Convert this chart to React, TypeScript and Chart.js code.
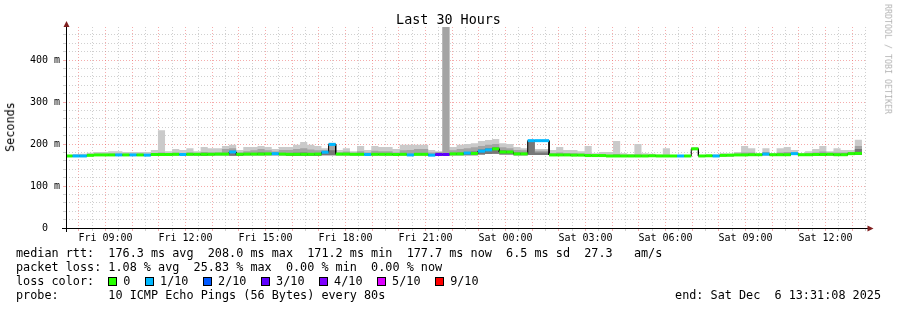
import React, { useEffect, useRef } from 'react';
import { Chart, registerables } from 'chart.js';

Chart.register(...registerables);

// ---- time frame (hours from Fri 00:00) ----
const FIRST_STEP_HOUR = 7.5; // first consolidated step starts Fri 07:30
const STEP_MINUTES = 16;
const VIEW_START_HOUR = 7 + 31 / 60 + 8 / 3600; // Fri 07:31:08
const VIEW_HOURS = 30;

// ---- series (ms), one value per 16-minute step ----
const medianRtt = [
  171.5, 171.5, 171.5, 173, 174, 174, 174, 174, 174, 174,
  174, 173.5, 175, 175, 175, 175.5, 175, 175.5, 175.5, 175.5,
  175.5, 176, 176, 181, 175.5, 176, 176, 176, 176.5, 177,
  176, 175.5, 175.5, 175.5, 175.5, 176, 180.5, 199, 176, 176,
  175.5, 175.5, 175, 175.5, 175.5, 175.5, 175, 175.5, 174, 175.5,
  175.5, 173.5, 175, 175, 176.5, 176.5, 178.5, 177.5, 183, 186,
  188.5, 181, 181, 176.5, 176.5, 208, 208, 208, 174, 174,
  174, 173.5, 173.5, 172.5, 172.5, 172.5, 171.5, 171.5, 171.5, 171.5,
  171.5, 171.5, 172, 171.5, 171.5, 171.5, 171.5, 171.5, 188.5, 171.5,
  172, 171.5, 173, 173.5, 174, 174, 174.5, 174.5, 176, 174.5,
  174.5, 174.5, 177, 174.5, 174.5, 175, 175, 175.5, 174.5, 174.5,
  177, 177.7,
];

// lost pings out of 10 per step
const lossCount = [
  0, 1, 1, 0, 0, 0, 0, 1, 0, 1,
  0, 1, 0, 0, 0, 0, 1, 0, 0, 0,
  0, 0, 0, 1, 0, 0, 0, 0, 0, 1,
  0, 0, 0, 0, 0, 0, 1, 1, 0, 0,
  0, 0, 1, 0, 0, 0, 0, 0, 1, 0,
  0, 1, 3, 3, 0, 0, 1, 0, 1, 1,
  0, 0, 0, 0, 0, 1, 1, 1, 0, 0,
  0, 0, 0, 0, 0, 0, 0, 0, 0, 0,
  0, 0, 0, 0, 0, 0, 1, 0, 0, 0,
  0, 1, 0, 0, 0, 0, 0, 0, 1, 0,
  0, 0, 1, 0, 0, 0, 0, 0, 0, 0,
  0, 0,
];

// smoke: outer (max ping), middle and inner layers, and lowest ping
const smokeHigh = [
  173, 176, 177, 179, 181, 181, 183, 183, 181, 181,
  181, 181, 186, 233, 183, 188, 186, 190, 183, 193,
  190, 190, 195, 198, 186, 193, 193, 195, 193, 188,
  193, 193, 198, 205, 198, 195, 190, 203, 186, 190,
  183, 195, 186, 195, 193, 193, 188, 198, 198, 198,
  198, 186, 183, 480, 193, 198, 200, 202, 207, 209.5,
  212, 202, 200, 193, 190, 208, 188, 188, 186, 193,
  186, 186, 183, 195, 178, 181, 181, 207, 178, 176,
  200, 178, 177, 175, 190, 174, 173, 173, 193, 173,
  174, 175, 178, 177, 181, 195, 190, 177, 190, 178,
  190, 193, 186, 178, 183, 188, 195, 183, 190, 186,
  186, 210,
];

const smokeMid = [
  172, 173, 173, 175, 176, 176, 177, 177, 176, 176,
  176, 176, 178, 180, 178, 179, 178, 180, 178, 181,
  180, 180, 188, 190, 180, 183, 185, 188, 185, 182,
  186, 186, 188, 190, 187, 185, 185, 201, 180, 182,
  179, 183, 180, 184, 183, 183, 180, 185, 186, 188,
  188, 180, 181, 480, 185, 188, 190, 192, 195, 198,
  200, 192, 190, 186, 185, 208, 184, 184, 178, 180,
  178, 178, 177, 177, 174, 175, 174, 176, 173, 173,
  175, 173, 173, 173, 174, 172.5, 172, 172, 190, 172,
  173, 173, 175, 175, 177, 180, 180, 176, 181, 176,
  180, 181, 180, 176, 178, 180, 182, 179, 180, 180,
  181, 195,
];

const smokeCore = [
  171.5, 171.5, 171.5, 173, 174, 174, 174, 174, 174, 174,
  174, 173.5, 175, 175, 175, 175.5, 175, 175.5, 175.5, 176,
  175.5, 176, 178, 184, 175.5, 176, 177, 180, 177, 177,
  178, 178, 179, 180, 178, 178, 180, 185, 176, 176,
  175.5, 176, 175, 176, 176, 176, 175, 176, 176, 178,
  178, 174, 176, 176, 178, 179, 181, 182, 187, 190,
  192, 185, 184, 180, 179, 206, 180, 180, 174, 174,
  174, 173.5, 173.5, 172.5, 172.5, 172.5, 171.5, 171.5, 171.5, 171.5,
  171.5, 171.5, 172, 171.5, 171.5, 171.5, 171.5, 171.5, 186, 171.5,
  172, 171.5, 173, 173.5, 174, 174, 174.5, 174.5, 176, 174.5,
  174.5, 175, 177, 174.5, 174.5, 175, 175, 175.5, 174.5, 177,
  177, 188,
];

const smokeLow = [
  170, 170, 170, 171.5, 172, 172, 172, 172, 172, 172,
  172, 171.5, 173, 173, 173, 173, 173, 173, 173, 172,
  173, 173, 173, 172, 172, 173, 173, 173, 173, 173,
  173, 172, 172, 172, 172, 172, 173, 173, 173, 173,
  173, 173, 173, 173, 173, 173, 173, 173, 172, 173,
  173, 171.5, 172, 172, 173, 173, 173, 173, 175, 176,
  177, 175, 175, 173, 173, 174, 174, 174, 172, 172,
  172, 171.5, 171.5, 171, 171, 171, 170, 170, 170, 170,
  170, 170, 170, 170, 170, 170, 170, 170, 186, 170,
  170, 170, 171, 171, 172, 172, 172, 172, 173, 172,
  172, 172, 174, 172, 172, 172, 172, 173, 172, 172,
  174, 174,
];

// ---- axis labels ----
const xLabelHours = [9, 12, 15, 18, 21, 24, 27, 30, 33, 36];
const xLabels = ['Fri 09:00', 'Fri 12:00', 'Fri 15:00', 'Fri 18:00', 'Fri 21:00', 'Sat 00:00', 'Sat 03:00', 'Sat 06:00', 'Sat 09:00', 'Sat 12:00'];
const yLabelValues = [0, 100, 200, 300, 400];
const yLabels = ['0  ', '100 m', '200 m', '300 m', '400 m'];
const Y_MAX = 478.6;

// ---- legend ----
const lossLegendCounts = [0, 1, 2, 3, 4, 5, 9];
const lossLegendLabels = ['0', '1/10', '2/10', '3/10', '4/10', '5/10', '9/10'];
const lossColors: Record<number, string> = {
  0: '#26ff00', 1: '#00b8ff', 2: '#0059ff', 3: '#5e00ff', 4: '#7e00ff', 5: '#dd00ff', 9: '#ff0000',
};
const statLines = [
  'median rtt:  176.3 ms avg  208.0 ms max  171.2 ms min  177.7 ms now  6.5 ms sd  27.3   am/s',
  'packet loss: 1.08 % avg  25.83 % max  0.00 % min  0.00 % now',
];
const probeLine = 'probe:       10 ICMP Echo Pings (56 Bytes) every 80s';
const endLine = 'end: Sat Dec  6 13:31:08 2025';
const titleText = 'Last 30 Hours';
const yAxisTitle = 'Seconds';
const watermark = 'RRDTOOL / TOBI OETIKER';

const FONT = '"DejaVu Sans Mono", monospace';
const MAJOR_GRID = 'rgba(235, 90, 90, 0.5)';
const MINOR_GRID = 'rgba(150, 150, 150, 0.45)';

function stepStart(i: number) {
  return FIRST_STEP_HOUR + (i * STEP_MINUTES) / 60;
}
function stepLine(values: number[]) {
  const pts: { x: number; y: number | null }[] = [];
  values.forEach((v, i) => {
    pts.push({ x: stepStart(i), y: v });
    pts.push({ x: stepStart(i + 1), y: v });
  });
  return pts;
}
function stepPieces(values: number[]) {
  const pts: { x: number; y: number | null }[] = [];
  values.forEach((v, i) => {
    pts.push({ x: stepStart(i), y: v });
    pts.push({ x: stepStart(i + 1), y: v });
    pts.push({ x: stepStart(i + 1), y: null });
  });
  return pts;
}

const gridHours: number[] = [];
for (let h = 8; h <= VIEW_START_HOUR + VIEW_HOURS; h += 0.5) gridHours.push(h);
const gridMs: number[] = [];
for (let v = 0; v < Y_MAX; v += 20) gridMs.push(v);

const axesPlugin = {
  id: 'rrdAxes',
  afterDatasetsDraw(chart: any) {
    const { ctx, chartArea: a } = chart;
    ctx.save();
    ctx.lineWidth = 1;
    ctx.strokeStyle = '#000';
    ctx.beginPath();
    ctx.moveTo(a.left - 4, a.bottom + 0.5);
    ctx.lineTo(a.right + 3, a.bottom + 0.5);
    ctx.stroke();
    ctx.beginPath();
    ctx.moveTo(a.left + 0.5, a.bottom + 4);
    ctx.lineTo(a.left + 0.5, a.top - 3);
    ctx.stroke();
    ctx.fillStyle = '#801f1f';
    ctx.beginPath();
    ctx.moveTo(a.right + 7.5, a.bottom + 0.5);
    ctx.lineTo(a.right + 1.5, a.bottom - 2.5);
    ctx.lineTo(a.right + 1.5, a.bottom + 3.5);
    ctx.closePath();
    ctx.fill();
    ctx.beginPath();
    ctx.moveTo(a.left + 0.5, a.top - 6);
    ctx.lineTo(a.left - 2.5, a.top);
    ctx.lineTo(a.left + 3.5, a.top);
    ctx.closePath();
    ctx.fill();
    ctx.restore();
  },
};

export default function App() {
  const canvasRef = useRef<HTMLCanvasElement | null>(null);

  useEffect(() => {
    document.body.style.margin = '0';
    const canvas = canvasRef.current;
    if (!canvas) return;
    const LOW = 5;
    const chart = new Chart(canvas, {
      type: 'line',
      data: {
        datasets: [
          {
            data: stepPieces(medianRtt) as any,
            borderWidth: 3,
            borderColor: '#26ff00',
            borderCapStyle: 'butt',
            segment: {
              borderColor: (c: any) => lossColors[lossCount[Math.floor(c.p0DataIndex / 3)]] || '#26ff00',
            },
            fill: false,
            order: 0,
          },
          {
            data: stepLine(medianRtt) as any,
            borderWidth: 1,
            borderColor: '#000',
            fill: false,
            order: 1,
          },
          {
            data: stepLine(smokeCore) as any,
            borderWidth: 0,
            borderColor: 'transparent',
            backgroundColor: '#777777',
            fill: LOW,
            order: 2,
          },
          {
            data: stepLine(smokeMid) as any,
            borderWidth: 0,
            borderColor: 'transparent',
            backgroundColor: '#a4a4a4',
            fill: LOW,
            order: 3,
          },
          {
            data: stepLine(smokeHigh) as any,
            borderWidth: 0,
            borderColor: 'transparent',
            backgroundColor: '#cacaca',
            fill: LOW,
            order: 4,
          },
          {
            data: stepLine(smokeLow) as any,
            borderWidth: 0,
            borderColor: 'transparent',
            fill: false,
            order: 5,
          },
        ],
      },
      options: {
        animation: false,
        responsive: false,
        maintainAspectRatio: false,
        devicePixelRatio: 1,
        events: [],
        layout: { padding: { left: 0, right: 31, top: 27, bottom: 62 } },
        elements: { point: { radius: 0 }, line: { tension: 0 } },
        plugins: { legend: { display: false }, title: { display: false }, tooltip: { enabled: false } },
        scales: {
          x: {
            type: 'linear',
            min: VIEW_START_HOUR,
            max: VIEW_START_HOUR + VIEW_HOURS,
            afterBuildTicks: (scale: any) => {
              scale.ticks = gridHours.map((v) => ({ value: v }));
            },
            afterFit: (scale: any) => {
              scale.height = 20;
            },
            border: { display: false, dash: [1, 2] },
            grid: {
              color: (c: any) => (Number.isInteger(c.tick?.value) ? MAJOR_GRID : MINOR_GRID),
              tickLength: 3,
              lineWidth: 1,
            },
            ticks: {
              autoSkip: false,
              maxRotation: 0,
              minRotation: 0,
              padding: 1,
              color: '#000',
              font: { family: FONT, size: 10 },
              callback: (value: any) => {
                const i = xLabelHours.indexOf(Number(value));
                return i >= 0 ? xLabels[i] : '';
              },
            },
          },
          y: {
            type: 'linear',
            min: 0,
            max: Y_MAX,
            afterBuildTicks: (scale: any) => {
              scale.ticks = gridMs.map((v) => ({ value: v }));
            },
            afterFit: (scale: any) => {
              scale.width = 66;
            },
            border: { display: false, dash: [1, 2] },
            grid: {
              color: (c: any) => {
                const v = c.tick?.value;
                if (v === 0 || v === undefined) return 'transparent';
                return v % 100 === 0 ? MAJOR_GRID : MINOR_GRID;
              },
              tickLength: 3,
              lineWidth: 1,
            },
            ticks: {
              autoSkip: false,
              padding: 3,
              color: '#000',
              font: { family: FONT, size: 10 },
              callback: (value: any) => {
                const i = yLabelValues.indexOf(Number(value));
                return i >= 0 ? yLabels[i] : '';
              },
            },
          },
        },
      },
      plugins: [axesPlugin],
    } as any);
    return () => chart.destroy();
  }, []);

  const textBase: React.CSSProperties = {
    position: 'absolute',
    fontFamily: FONT,
    color: '#000',
    whiteSpace: 'pre',
  };

  return (
    <div style={{ position: 'relative', width: 897, height: 310, background: '#fff', overflow: 'hidden' }}>
      <canvas ref={canvasRef} width={897} height={310} style={{ position: 'absolute', left: 0, top: 0, width: 897, height: 310 }} />
      <div style={{ ...textBase, left: 0, width: 897, top: 12.7, textAlign: 'center', fontSize: 13.4, lineHeight: '13.4px' }}>{titleText}</div>
      <div
        style={{
          ...textBase,
          left: 11.2,
          top: 126.5,
          fontSize: 11.8,
          lineHeight: '11.8px',
          transform: 'translate(-50%, -50%) rotate(-90deg)',
        }}
      >
        {yAxisTitle}
      </div>
      <div
        style={{
          ...textBase,
          left: 887.9,
          top: 59,
          fontSize: 8.3,
          lineHeight: '8.3px',
          color: '#b4b4b4',
          transform: 'translate(-50%, -50%) rotate(90deg)',
        }}
      >
        {watermark}
      </div>
      <div style={{ ...textBase, left: 16, top: 246.4, fontSize: 11.8, lineHeight: '14px' }}>
        {statLines.map((l) => (
          <div key={l}>{l}</div>
        ))}
        <div>
          {'loss color:  '}
          {lossLegendCounts.map((n, i) => (
            <span key={n}>
              <span
                style={{
                  display: 'inline-block',
                  width: 7,
                  height: 7,
                  border: '1px solid #000',
                  background: lossColors[n],
                  marginRight: 6,
                  verticalAlign: -1,
                }}
              />
              {lossLegendLabels[i]}
              <span style={{ display: 'inline-block', width: 14.6 }} />
            </span>
          ))}
        </div>
        <div>{probeLine}</div>
      </div>
      <div style={{ ...textBase, right: 16, top: 288.4, fontSize: 11.8, lineHeight: '14px' }}>{endLine}</div>
    </div>
  );
}
